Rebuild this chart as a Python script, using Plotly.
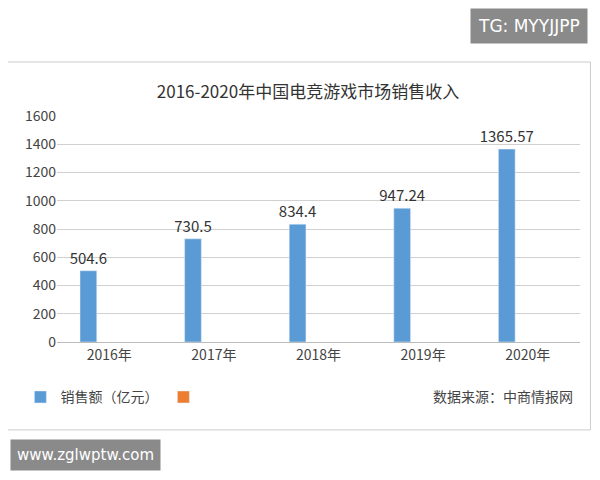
import plotly.graph_objects as go

years = ["2016年", "2017年", "2018年", "2019年", "2020年"]
sales = [504.6, 730.5, 834.4, 947.24, 1365.57]
sales_text = ["504.6", "730.5", "834.4", "947.24", "1365.57"]
empty = [None, None, None, None, None]

font = "Noto Sans CJK SC"
fig = go.Figure()
fig.add_trace(go.Bar(x=years, y=sales, name="销售额（亿元）", marker_color="#5b9bd5",
                     text=sales_text, textposition="outside", cliponaxis=False,
                     constraintext="none",
                     textfont=dict(size=15, color="#333", family=font)))
fig.add_trace(go.Bar(x=years, y=empty, name=" ", marker_color="#ed7d31"))

fig.update_layout(
    width=600, height=480, paper_bgcolor="white", plot_bgcolor="white",
    margin=dict(l=47, r=28, t=108, b=146),
    bargap=0.2, bargroupgap=0.6,
    showlegend=True,
    legend=dict(orientation="h", x=-0.07, y=-0.245, xanchor="left", yanchor="middle",
                font=dict(size=14, color="#444", family=font)),
    title=dict(text="2016-2020年中国电竞游戏市场销售收入", x=0.5, y=0.825,
               xanchor="center", yanchor="middle",
               font=dict(size=17, color="#333", family=font)),
    font=dict(family=font, color="#444"),
    xaxis=dict(tickfont=dict(size=14), showline=True, linecolor="#bbb"),
    yaxis=dict(range=[0, 1600], dtick=200, gridcolor="#d0d0d0",
               tickfont=dict(size=14), zeroline=False),
    shapes=[dict(type="rect", xref="paper", yref="paper", x0=-0.115, x1=1.02,
                 y0=-0.389, y1=1.239, line=dict(color="#cccccc", width=1))],
    annotations=[
        dict(text="数据来源：中商情报网", xref="paper", yref="paper", x=0.99, y=-0.24,
             xanchor="right", yanchor="middle", showarrow=False,
             font=dict(size=14, color="#444", family=font)),
        dict(text="TG: MYYJJPP", xref="paper", yref="paper", x=1.015, y=1.40,
             xanchor="right", yanchor="middle", showarrow=False, bgcolor="#8a8a8a",
             borderpad=7, font=dict(size=17, color="white", family="DejaVu Sans")),
        dict(text="www.zglwptw.com", xref="paper", yref="paper", x=-0.09, y=-0.5,
             xanchor="left", yanchor="middle", showarrow=False, bgcolor="#8a8a8a",
             borderpad=6, font=dict(size=15, color="white", family="DejaVu Sans")),
    ],
)
fig.write_html("out.html")
